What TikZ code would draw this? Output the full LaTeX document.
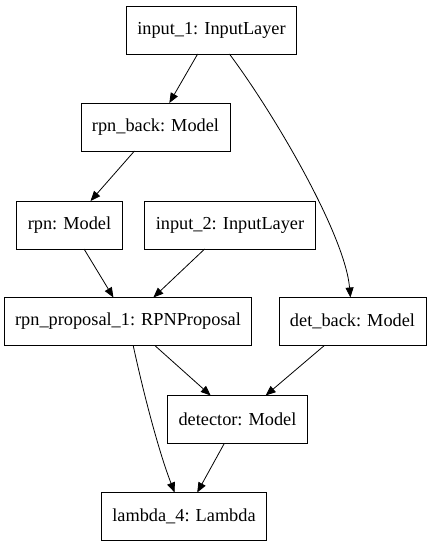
\documentclass[tikz,border=0pt]{standalone}
\usepackage{fontspec}
\setmainfont{Liberation Serif}
\usepackage{tikz}
\usetikzlibrary{arrows.meta}

\begin{document}
\begin{tikzpicture}[x=1pt,y=-1pt,
  every node/.style={font=\fontsize{18.3}{21}\selectfont},
  layer/.style={draw=black,line width=0.8pt,fill=white,inner xsep=11pt,minimum height=48pt,outer sep=0pt},
  edge/.style={-{Triangle[length=10pt,width=8pt]},line width=0.8pt}]
  \useasboundingbox (0,0) rectangle (432,547);

  % Layers
  \node[layer] (in1) at (211.5,30) {input\_1: InputLayer};
  \node[layer] (rpnb) at (155.5,127) {rpn\_back: Model};
  \node[layer] (rpn) at (69.5,225) {rpn: Model};
  \node[layer] (in2) at (230,225) {input\_2: InputLayer};
  \node[layer] (prop) at (128,321.5) {rpn\_proposal\_1: RPNProposal};
  \node[layer] (detb) at (352.5,321.5) {det\_back: Model};
  \node[layer] (det) at (237.5,419.5) {detector: Model};
  \node[layer] (lam) at (184,516.5) {lambda\_4: Lambda};

  % Connections
  \draw[edge] (in1) -- (rpnb);
  \draw[edge] (in1) .. controls (275,115) and (345,235) .. (detb);
  \draw[edge] (rpnb) -- (rpn);
  \draw[edge] (rpn) -- (prop);
  \draw[edge] (in2) -- (prop);
  \draw[edge] (prop) -- (det);
  \draw[edge] (detb) -- (det);
  \draw[edge] (prop) .. controls (145,400) and (160,455) .. (lam);
  \draw[edge] (det) -- (lam);
\end{tikzpicture}
\end{document}
